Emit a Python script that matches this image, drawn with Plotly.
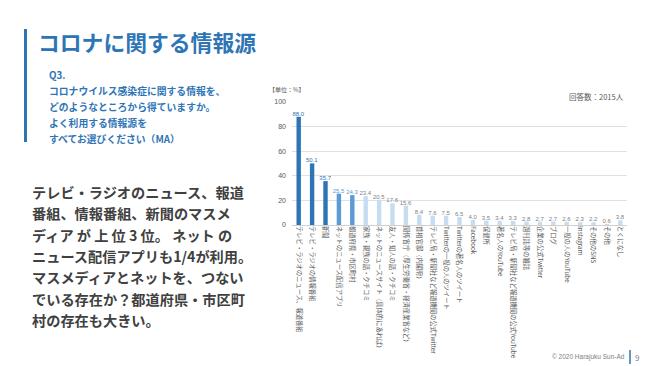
import plotly.graph_objects as go

categories = [
    "テレビ・ラジオのニュース、報道番組",
    "テレビ・ラジオの情報番組",
    "新聞",
    "ネットのニュース配信アプリ",
    "都道府県・市区町村",
    "家族・親族の話・クチコミ",
    "ネットのニュースサイト（具体的にあれば）",
    "友人・知人の話・クチコミ",
    "関係省庁（厚生労働省・経済産業省など）",
    "首相官邸（内閣府）",
    "テレビ局・新聞社など報道機関の公式Twitter",
    "Twitterの一般の人のツイート",
    "Twitterの著名人のツイート",
    "Facebook",
    "保健所",
    "著名人のYouTube",
    "テレビ局・新聞社など報道機関の公式YouTube",
    "週刊誌等の雑誌",
    "企業の公式Twitter",
    "ブログ",
    "一般の人のYouTube",
    "Instagram",
    "その他のSNS",
    "その他",
    "とくになし",
]
values = [88.0, 50.1, 35.7, 25.5, 24.3, 23.4, 20.5, 17.6, 15.6, 8.4, 7.6, 7.5, 6.5,
          4.0, 3.5, 3.4, 3.3, 2.8, 2.7, 2.7, 2.6, 2.3, 2.2, 0.6, 3.8]
y_ticks = [0, 20, 40, 60, 80, 100]

DARK = "#2e75b6"
MID = "#5b9bd5"
LIGHT = "#c6dcf1"
bar_colors = [DARK] * 3 + [MID] * 2 + [LIGHT] * (len(values) - 5)
label_colors = [DARK] * 3 + [MID] * 2 + ["#7f7f7f"] * (len(values) - 5)

# page body has an 8px margin; work in page pixels and shift
OFF = 8
W, H = 650 - OFF, 366 - OFF
PL, PR, PT, PB = 292, 627, 102, 225   # plot area in page pixels
L, T = PL - OFF, PT - OFF
R, B = W - (PR - OFF), H - (PB - OFF)

fig = go.Figure()
fig.add_trace(go.Bar(
    x=categories, y=values,
    marker=dict(color=bar_colors, line=dict(width=0)),
    width=0.33,
    text=[f"{v:.1f}" for v in values],
    textposition="outside",
    constraintext="none",
    textangle=0,
    textfont=dict(size=6, color=label_colors, family="Liberation Sans"),
    cliponaxis=False,
    hoverinfo="skip",
))

def px(x):
    return (x - PL) / (PR - PL)

def py(y):
    return 1 - (y - PT) / (PB - PT)

annotations = []
def txt(x, y, s, size, color, xanchor="left", family="Noto Sans CJK JP"):
    annotations.append(dict(
        x=px(x), y=py(y), xref="paper", yref="paper", text=s, showarrow=False,
        xanchor=xanchor, yanchor="middle", align="left", borderpad=0,
        font=dict(size=size, color=color, family=family),
    ))

txt(37, 41, "<b>コロナに関する情報源</b>", 21.8, DARK)
q_lines = ["Q3.", "コロナウイルス感染症に関する情報を、", "どのようなところから得ていますか。",
           "よく利用する情報源を", "すべてお選びください（MA）"]
for i, s in enumerate(q_lines):
    txt(48, 75 + i * 16, f"<b>{s}</b>", 9.8, DARK)

body = ["テレビ・ラジオのニュース、報道", "番組、情報番組、新聞のマスメ", "ディア が 上 位 3 位。 ネット の",
        "ニュース配信アプリも1/4が利用。", "マスメディアとネットを、つない", "でいる存在か？都道府県・市区町",
        "村の存在も大きい。"]
for i, s in enumerate(body):
    txt(31, 192 + i * 21.3, f"<b>{s}</b>", 14.2, "#404040")

txt(268, 90, "【単位：%】", 6, "#595959")
txt(625, 96, "回答数：2015人", 7.5, "#595959", xanchor="right")
txt(626, 357, "© 2020 Harajuku Sun-Ad", 6.5, "#808080", xanchor="right", family="Liberation Sans")
txt(634, 357, "9", 8, "#808080")

shapes = [
    dict(type="rect", xref="paper", yref="paper", x0=px(24), x1=px(27), y0=py(29), y1=py(142),
         fillcolor=DARK, line=dict(width=0)),
    dict(type="line", xref="paper", yref="paper", x0=px(630), x1=px(630), y0=py(350), y1=py(364),
         line=dict(color=DARK, width=1.5)),
]

fig.update_layout(
    width=W, height=H,
    margin=dict(l=L, r=R, t=T, b=B, autoexpand=False),
    paper_bgcolor="white", plot_bgcolor="white",
    showlegend=False,
    annotations=annotations,
    shapes=shapes,
    font=dict(family="Noto Sans CJK JP"),
)
fig.update_xaxes(
    tickangle=90, tickfont=dict(size=6.3, color="#595959", family="Noto Sans CJK JP"),
    showgrid=False, showline=False, ticks="", range=[-0.5, len(categories) - 0.5],
    fixedrange=True, automargin=False,
)
fig.update_yaxes(
    range=[0, 100], tickvals=y_ticks, showgrid=True, gridcolor="#e0e0e0", gridwidth=1,
    zeroline=True, zerolinecolor="#d0d0d0", zerolinewidth=1,
    tickfont=dict(size=7, color="#595959", family="Liberation Sans"),
    ticklabelstandoff=5,
    ticks="", fixedrange=True, automargin=False,
)

fig.write_html("out.html")
